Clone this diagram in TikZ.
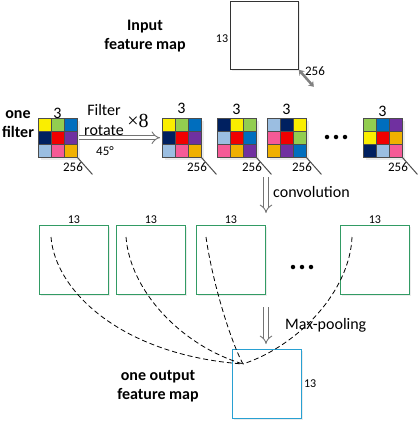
\documentclass[tikz,border=0pt]{standalone}
\usepackage{fontspec}
\setmainfont{Carlito}
\newfontfamily\timesfont{Liberation Serif}
\usetikzlibrary{arrows.meta,shadows}

\definecolor{cyel}{RGB}{250,238,0}
\definecolor{cgrn}{RGB}{146,205,80}
\definecolor{cblu}{RGB}{0,110,190}
\definecolor{cpur}{RGB}{112,48,160}
\definecolor{corg}{RGB}{240,176,0}
\definecolor{cpnk}{RGB}{245,90,150}
\definecolor{clbl}{RGB}{155,190,225}
\definecolor{cnav}{RGB}{0,32,96}
\definecolor{cred}{RGB}{240,0,0}
\definecolor{mapgreen}{RGB}{50,155,100}
\definecolor{mapblue}{RGB}{40,160,210}
% ring of the 3x3 filter, clockwise from the top left cell
\colorlet{ring0}{cyel}
\colorlet{ring1}{cgrn}
\colorlet{ring2}{cblu}
\colorlet{ring3}{cpur}
\colorlet{ring4}{corg}
\colorlet{ring5}{cpnk}
\colorlet{ring6}{clbl}
\colorlet{ring7}{cnav}

\begin{document}
\begin{tikzpicture}[x=1pt, y=-1pt, > = Stealth, font=\fontsize{16}{19.5}\selectfont]
    \tikzstyle{fmap}=[draw=mapgreen, line width=0.8pt, minimum size=69pt, inner sep=0pt, anchor=north west, fill=white, drop shadow={opacity=0.15, shadow xshift=1.5pt, shadow yshift=-1.5pt}]
    \tikzstyle{filt}=[minimum size=39pt, inner sep=0pt, anchor=north west, fill=white, drop shadow={opacity=0.15, shadow xshift=2.5pt, shadow yshift=-2.5pt}]
    \tikzstyle{small}=[font=\fontsize{12}{14}\selectfont, inner sep=0pt]
    \tikzstyle{dim}=[font=\fontsize{13}{15}\selectfont, inner sep=0pt]
    \tikzstyle{title}=[font=\bfseries\fontsize{16}{19.5}\selectfont, align=center, inner sep=0pt]
    \tikzstyle{hollow}=[draw=black!55, line width=0.9pt, double=white, double distance=3.5pt, -{Implies[length=6pt]}]
    \tikzstyle{depth}=[draw=black!70, line width=1pt]
    \tikzstyle{pool}=[dash pattern=on 5pt off 3pt, line width=0.8pt]
    \tikzstyle{dot}=[circle, fill=black, inner sep=0pt, minimum size=4.5pt]

    \useasboundingbox (0,0) rectangle (420,421);

    % Input
    \node[draw=black!80, line width=0.8pt, minimum width=68pt, minimum height=68.5pt, inner sep=0pt, anchor=north west, fill=white, drop shadow={opacity=0.15, shadow xshift=1.5pt, shadow yshift=-1.5pt}] (in) at (230,0.5) {};
    \draw[{Stealth[length=5pt,width=7pt]}-{Stealth[length=5pt,width=7pt]}, line width=2.5pt, gray] (in.south east) -- ++(15,17) coordinate (in-e);
    \node[small] (in-h) at (222,39) {13};
    \node[dim] (in-d) at (315,71) {256};
    \node[title] (intitle) at (145,36) {Input\\feature map};

    % Filters
    \node[title] (ftitle) at (18,124) {one\\filter};
    \foreach \i/\fx/\k/\ty in {1/38/0/113, 2/162/0/108, 3/217/1/109, 4/267/2/109, 5/363/7/111} {
        \node[filt] (f\i) at (\fx,118) {};
        \foreach \p/\cx/\cy in {0/0/0,1/1/0,2/2/0,3/2/1,4/2/2,5/1/2,6/0/2,7/0/1} {
            \pgfmathtruncatemacro\idx{mod(\p-\k+8,8)}
            \filldraw[fill=ring\idx, draw=black!70, line width=0.4pt] (\fx+13*\cx,118+13*\cy) rectangle ++(13,13);
        }
        \filldraw[fill=cred, draw=black!70, line width=0.4pt] (\fx+13,131) rectangle ++(13,13);
        \node (f\i-n) at (\fx+19.5,\ty) {3};
        \draw[depth] (f\i.south east) -- ++(15,17) coordinate (f\i-e);
        \node[dim] (f\i-d) at (\fx+35,167) {256};
    }
    \foreach \x in {327,336,345}
        \node[dot] (fd\x) at (\x,137) {};

    \draw[hollow] ([xshift=2pt]f1.east) -- ([xshift=-2pt]f2.west);
    \node[align=center, inner sep=0pt] (rot) at (104,120) {Filter\\rotate};
    \node[inner sep=0pt] (times) at (138,121) {\timesfont\fontsize{20}{24}\selectfont ×8};
    \node[dim] (ang) at (105,151) {45°};

    % Convolution
    \coordinate (cv1) at (266,177);
    \coordinate (cv2) at (266,213);
    \draw[hollow] (cv1) -- (cv2);
    \node[anchor=west, inner sep=0pt] (cvtext) at (273,192) {convolution};

    % Feature maps
    \foreach \i/\bx in {1/39, 2/116, 3/196, 4/340} {
        \node[fmap] (m\i) at (\bx,225) {};
        \node[small, above=1.5pt] (m\i-w) at (m\i.north) {13};
    }
    \foreach \x in {293,302,311}
        \node[dot] (md\x) at (\x,267) {};

    % Max-pooling
    \coordinate (mp1) at (266,307);
    \coordinate (mp2) at (266,344);
    \draw[hollow] (mp1) -- (mp2);
    \node[anchor=west, inner sep=0pt] (mptext) at (285,325) {Max-pooling};

    \node[fmap, draw=mapblue] (out) at (232,349) {};
    \node[small, right=2pt] (out-h) at (out.east) {13};
    \node[title] (otitle) at (158,386) {one output\\feature map};

    \coordinate (p) at (243,364);
    \coordinate (m1-s) at (51,237);
    \coordinate (m2-s) at (126,237);
    \coordinate (m3-s) at (206,237);
    \coordinate (m4-s) at (352,237);
    \draw[pool] (m1-s) .. controls (55,290) and (120,355) .. (p);
    \draw[pool] (m2-s) .. controls (130,290) and (180,345) .. (p);
    \draw[pool] (m3-s) .. controls (212,280) and (230,340) .. (p);
    \draw[pool] (m4-s) .. controls (350,290) and (300,345) .. (p);

\end{tikzpicture}
\end{document}
